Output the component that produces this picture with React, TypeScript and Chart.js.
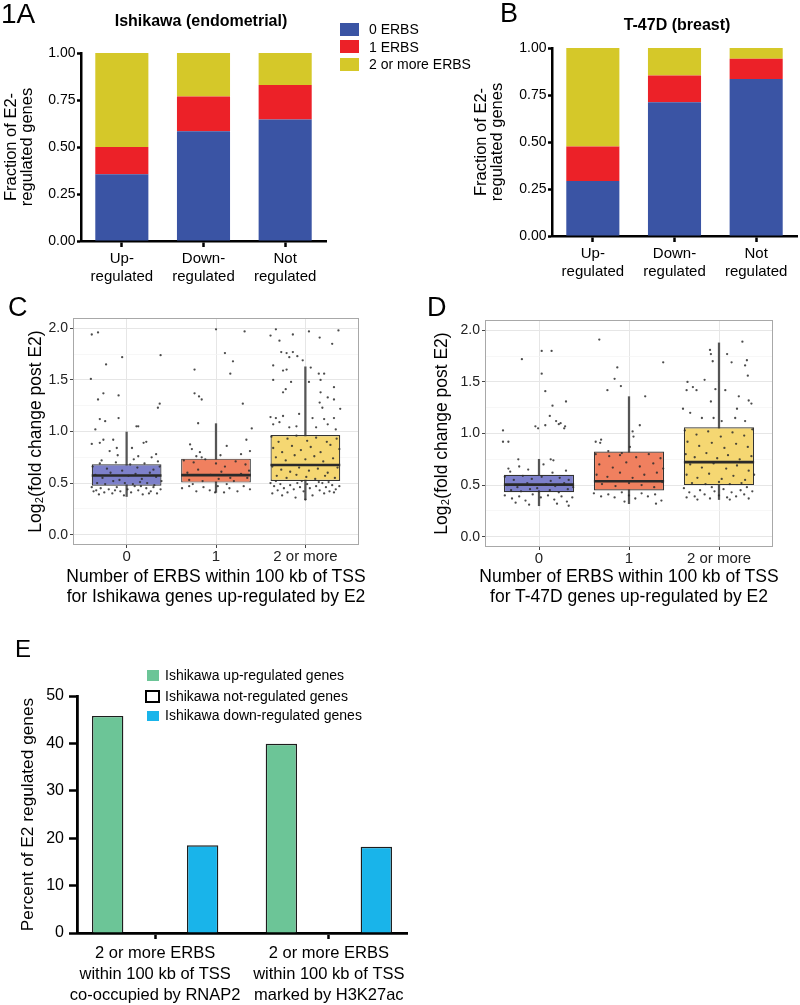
import React, { useEffect, useRef } from "react";
import { Chart, registerables } from "chart.js";

Chart.register(...registerables);

const FONT = "'Liberation Sans', Arial, Helvetica, sans-serif";

// ---------------- Panels A & B: stacked fractions ----------------
const REG_CATEGORIES = [["Up-", "regulated"], ["Down-", "regulated"], ["Not", "regulated"]];
const ERBS_LEGEND = ["0 ERBS", "1 ERBS", "2 or more ERBS"];
const ISH_ZERO = [0.355, 0.584, 0.646];
const ISH_ONE = [0.145, 0.184, 0.184];
const ISH_TWO_PLUS = [0.5, 0.232, 0.17];
const T47D_ZERO = [0.293, 0.712, 0.835];
const T47D_ONE = [0.183, 0.142, 0.108];
const T47D_TWO_PLUS = [0.524, 0.146, 0.057];
const FRACTION_TICKS = [0, 0.25, 0.5, 0.75, 1];

// ---------------- Panels C & D: box plots with jittered genes ----------------
const ERBS_GROUPS = ["0", "1", "2 or more"];
const LOG2_TICKS = [0, 0.25, 0.5, 0.75, 1, 1.25, 1.5, 1.75, 2];

const ISH_LOW = [0.37, 0.41, 0.34];
const ISH_Q1 = [0.475, 0.505, 0.52];
const ISH_MEDIAN = [0.573, 0.577, 0.675];
const ISH_Q3 = [0.683, 0.737, 0.966];
const ISH_HIGH = [0.995, 1.076, 1.627];

const T47D_LOW = [0.3, 0.32, 0.36];
const T47D_Q1 = [0.43, 0.447, 0.5];
const T47D_MEDIAN = [0.505, 0.537, 0.723];
const T47D_Q3 = [0.6, 0.826, 1.061];
const T47D_HIGH = [0.75, 1.357, 1.878];

// [offset from group centre, log2 fold change]
const ISH_GENES_0 = [
  [-0.39, 1.94], [-0.32, 1.96], [-0.23, 1.65], [-0.05, 1.72], [0.38, 1.74], [-0.4, 1.51], [-0.26, 1.37],
  [-0.32, 1.31], [-0.09, 1.35], [0.35, 1.23], [0.37, 1.27], [-0.3, 1.12], [-0.24, 1.1], [-0.09, 1.13],
  [-0.35, 1.02], [0.11, 1.05], [0.13, 1.05], [-0.39, 0.88], [-0.3, 0.89], [-0.26, 0.92], [-0.15, 0.92],
  [0.19, 0.89], [0.22, 0.9], [0.06, 0.84], [0.33, 0.78], [-0.19, 0.81], [-0.11, 0.84], [0.13, 0.76],
  [0.28, 0.75], [-0.28, 0.72], [0.08, 0.73], [0.35, 0.71], [-0.1, 0.77],
  [-0.38, 0.66], [-0.3, 0.69], [-0.22, 0.64], [-0.12, 0.7], [-0.05, 0.62], [0.04, 0.68], [0.12, 0.65],
  [0.2, 0.69], [0.3, 0.63], [0.37, 0.66], [-0.35, 0.58], [-0.27, 0.55], [-0.18, 0.6], [-0.08, 0.53],
  [0.02, 0.57], [0.1, 0.59], [0.17, 0.54], [0.26, 0.6], [0.33, 0.56], [0.39, 0.52], [-0.33, 0.5],
  [-0.24, 0.49], [-0.15, 0.52], [-0.02, 0.5], [0.07, 0.49], [0.15, 0.51], [0.23, 0.5], [0.31, 0.48],
  [-0.39, 0.46], [-0.34, 0.43], [-0.29, 0.45], [-0.25, 0.41], [-0.2, 0.44], [-0.16, 0.4], [-0.11, 0.46],
  [-0.07, 0.42], [-0.03, 0.38], [0.01, 0.44], [0.05, 0.41], [0.09, 0.47], [0.13, 0.43], [0.18, 0.39],
  [0.22, 0.45], [0.27, 0.42], [0.3, 0.46], [0.34, 0.4], [0.38, 0.44], [-0.31, 0.39], [0.16, 0.47],
  [-0.13, 0.43], [0.25, 0.4], [-0.37, 0.42],
];
const ISH_GENES_1 = [
  [0.0, 1.99], [0.32, 1.97], [0.1, 1.76], [0.19, 1.68], [-0.24, 1.6], [0.16, 1.56], [-0.24, 1.37],
  [-0.19, 1.34], [-0.16, 1.31], [0.3, 1.27], [-0.2, 1.08], [0.4, 1.03], [-0.29, 0.875], [0.12, 0.86],
  [0.34, 0.92], [-0.27, 0.83], [-0.22, 0.76], [-0.16, 0.75], [0.38, 0.81], [0.28, 0.78], [-0.18, 0.8],
  [0.05, 0.77], [-0.36, 0.72], [-0.25, 0.7], [-0.12, 0.73], [0.0, 0.69], [0.1, 0.66], [0.22, 0.71],
  [0.33, 0.68], [-0.32, 0.6], [-0.2, 0.63], [-0.06, 0.58], [0.06, 0.61], [0.16, 0.55], [0.28, 0.59],
  [0.37, 0.62], [-0.3, 0.53], [-0.15, 0.52], [0.03, 0.54], [0.2, 0.52], [0.35, 0.55], [-0.38, 0.45],
  [-0.3, 0.47], [-0.22, 0.42], [-0.14, 0.46], [-0.07, 0.43], [0.02, 0.47], [0.09, 0.41], [0.15, 0.45],
  [0.24, 0.42], [0.31, 0.47], [0.38, 0.44], [-0.26, 0.49], [0.12, 0.49], [-0.01, 0.41],
];
const ISH_GENES_2 = [
  [-0.39, 1.93], [-0.33, 1.99], [-0.29, 1.88], [-0.14, 1.94], [0.04, 1.97], [0.16, 1.91], [0.3, 1.85],
  [0.37, 1.98], [-0.27, 1.77], [-0.21, 1.76], [-0.14, 1.77], [-0.09, 1.73], [-0.18, 1.72], [-0.03, 1.69],
  [-0.36, 1.64], [-0.25, 1.59], [-0.21, 1.6], [0.06, 1.62], [0.15, 1.56], [0.21, 1.56], [-0.36, 1.5],
  [-0.16, 1.48], [0.04, 1.48], [0.17, 1.5], [0.32, 1.43], [-0.22, 1.41], [-0.25, 1.38], [0.17, 1.38],
  [0.25, 1.33], [0.32, 1.31], [0.16, 1.28], [0.19, 1.23], [0.39, 1.22], [-0.39, 1.14], [-0.33, 1.13],
  [-0.25, 1.15], [-0.07, 1.17], [0.08, 1.13], [0.21, 1.12], [0.32, 1.13], [-0.36, 1.07], [-0.29, 1.09],
  [-0.18, 1.04], [-0.1, 1.05], [0.12, 1.04], [0.25, 1.07], [0.34, 1.02],
  [-0.38, 0.95], [-0.3, 0.9], [-0.2, 0.93], [-0.1, 0.96], [0.02, 0.91], [0.12, 0.94], [0.24, 0.9],
  [0.35, 0.93], [-0.36, 0.84], [-0.26, 0.8], [-0.15, 0.86], [-0.05, 0.82], [0.06, 0.85], [0.17, 0.8],
  [0.28, 0.87], [0.38, 0.83], [-0.33, 0.75], [-0.22, 0.72], [-0.12, 0.77], [0.0, 0.73], [0.1, 0.76],
  [0.2, 0.71], [0.31, 0.74], [-0.37, 0.66], [-0.27, 0.63], [-0.17, 0.61], [-0.07, 0.65], [0.04, 0.62],
  [0.14, 0.64], [0.25, 0.6], [0.36, 0.65], [-0.32, 0.57], [-0.21, 0.55], [-0.1, 0.58], [0.01, 0.56],
  [0.11, 0.54], [0.22, 0.57], [0.33, 0.55],
  [-0.39, 0.5], [-0.35, 0.47], [-0.31, 0.43], [-0.28, 0.49], [-0.24, 0.45], [-0.2, 0.41], [-0.17, 0.48],
  [-0.13, 0.44], [-0.09, 0.5], [-0.06, 0.46], [-0.02, 0.42], [0.02, 0.49], [0.05, 0.45], [0.08, 0.38],
  [0.12, 0.47], [0.16, 0.43], [0.19, 0.5], [0.23, 0.46], [0.27, 0.42], [0.3, 0.48], [0.34, 0.44],
  [0.38, 0.47], [-0.37, 0.4], [-0.26, 0.38], [-0.11, 0.36], [0.0, 0.34], [0.21, 0.4], [0.32, 0.41],
  [-0.04, 0.52], [0.15, 0.51], [-0.33, 0.52], [0.26, 0.51],
];

const T47D_GENES_0 = [
  [-0.19, 1.72], [0.03, 1.8], [0.14, 1.8], [0.03, 1.58], [0.07, 1.41], [0.3, 1.31], [0.15, 1.27],
  [0.12, 1.17], [0.19, 1.12], [0.22, 1.09], [0.24, 1.1], [0.28, 1.05], [0.29, 1.07], [-0.04, 1.07],
  [-0.01, 1.05], [0.07, 1.08], [-0.4, 1.03], [-0.4, 0.92], [-0.34, 0.92], [0.13, 0.75], [0.16, 0.74],
  [-0.23, 0.75], [-0.34, 0.66], [-0.32, 0.63], [-0.12, 0.65], [0.15, 0.62], [0.3, 0.64], [-0.22, 0.68],
  [0.05, 0.7],
  [-0.38, 0.58], [-0.28, 0.55], [-0.18, 0.59], [-0.08, 0.56], [0.03, 0.58], [0.13, 0.54], [0.23, 0.57],
  [0.33, 0.55], [-0.35, 0.5], [-0.24, 0.48], [-0.13, 0.52], [-0.02, 0.47], [0.08, 0.51], [0.18, 0.49],
  [0.28, 0.52], [0.38, 0.48], [-0.31, 0.45], [-0.2, 0.44], [-0.1, 0.46], [0.0, 0.44], [0.12, 0.45],
  [0.22, 0.43], [0.32, 0.46], [-0.38, 0.4], [-0.3, 0.37], [-0.22, 0.39], [-0.15, 0.35], [-0.07, 0.41],
  [0.02, 0.38], [0.1, 0.4], [0.17, 0.36], [0.25, 0.39], [0.31, 0.34], [0.37, 0.38], [-0.26, 0.33],
  [-0.11, 0.31], [0.2, 0.32], [0.33, 0.3],
];
const T47D_GENES_1 = [
  [-0.33, 1.91], [-0.13, 1.64], [-0.16, 1.53], [-0.09, 1.46], [-0.24, 1.42], [0.38, 1.69], [0.18, 1.36],
  [0.12, 1.08], [0.04, 1.02], [0.05, 0.97], [-0.37, 0.92], [-0.32, 0.91], [-0.31, 0.94], [0.01, 0.87],
  [-0.1, 0.79], [-0.23, 0.83],
  [-0.37, 0.8], [-0.22, 0.78], [-0.08, 0.81], [0.08, 0.77], [0.22, 0.8], [0.35, 0.76], [-0.33, 0.7],
  [-0.18, 0.67], [-0.03, 0.72], [0.12, 0.68], [0.27, 0.71], [0.38, 0.66], [-0.36, 0.6], [-0.24, 0.58],
  [-0.1, 0.62], [0.04, 0.57], [0.17, 0.6], [0.31, 0.62], [-0.3, 0.51], [-0.15, 0.49], [0.0, 0.52],
  [0.14, 0.5], [0.28, 0.48], [0.37, 0.53], [-0.39, 0.42], [-0.31, 0.39], [-0.23, 0.41], [-0.16, 0.38],
  [-0.08, 0.43], [0.0, 0.4], [0.07, 0.37], [0.14, 0.42], [0.21, 0.39], [0.29, 0.41], [0.36, 0.35],
  [0.3, 0.32], [-0.05, 0.34],
];
const T47D_GENES_2 = [
  [-0.1, 1.81], [-0.09, 1.77], [-0.07, 1.7], [0.14, 1.69], [0.26, 1.89], [0.31, 1.71], [0.29, 1.66],
  [0.32, 1.56], [0.09, 1.77], [-0.16, 1.52], [-0.35, 1.5], [-0.36, 1.42], [-0.29, 1.45], [-0.25, 1.42],
  [-0.04, 1.43], [0.07, 1.42], [-0.09, 1.31], [0.22, 1.36], [0.33, 1.32], [0.36, 1.29], [0.2, 1.24],
  [-0.4, 1.24], [-0.32, 1.2], [-0.19, 1.15], [-0.06, 1.15], [0.03, 1.12], [0.18, 1.15], [0.29, 1.12],
  [-0.38, 1.03], [-0.25, 0.99], [-0.12, 1.02], [0.02, 0.97], [0.15, 1.01], [0.28, 0.98], [0.37, 1.04],
  [-0.35, 0.92], [-0.22, 0.88], [-0.08, 0.91], [0.06, 0.86], [0.19, 0.9], [0.32, 0.87], [-0.37, 0.8],
  [-0.27, 0.77], [-0.14, 0.81], [-0.02, 0.76], [0.1, 0.79], [0.23, 0.75], [0.36, 0.78], [-0.32, 0.7],
  [-0.19, 0.67], [-0.06, 0.71], [0.08, 0.66], [0.2, 0.69], [0.33, 0.64], [-0.36, 0.6], [-0.24, 0.57],
  [-0.11, 0.61], [0.03, 0.56], [0.16, 0.59], [0.29, 0.55], [0.39, 0.6], [-0.3, 0.52], [-0.15, 0.51],
  [0.0, 0.53], [0.12, 0.51], [0.25, 0.52],
  [-0.39, 0.47], [-0.33, 0.43], [-0.27, 0.39], [-0.21, 0.45], [-0.16, 0.41], [-0.1, 0.37], [-0.05, 0.44],
  [0.0, 0.4], [0.05, 0.46], [0.09, 0.38], [0.14, 0.43], [0.19, 0.39], [0.24, 0.45], [0.28, 0.41],
  [0.33, 0.37], [0.37, 0.44], [-0.36, 0.38], [-0.24, 0.36], [0.12, 0.36], [0.31, 0.48], [-0.08, 0.48],
];

// ---------------- Panel E ----------------
const E_CATEGORIES = [
  ["2 or more ERBS", "within 100 kb of TSS", "co-occupied by RNAP2"],
  ["2 or more ERBS", "within 100 kb of TSS", "marked by H3K27ac"],
];
const E_SERIES = ["Ishikawa up-regulated genes", "Ishikawa not-regulated genes", "Ishikawa down-regulated genes"];
const E_UP = [45.8, 39.9];
const E_NOT = [0, 0];
const E_DOWN = [18.5, 18.2];
const E_TICKS = [0, 10, 20, 30, 40, 50];

// ---------------- styles ----------------
const BLUE = "#3a54a4";
const RED = "#ec2128";
const OLIVE = "#d5c829";
const BOX_FILLS = ["#7d80ca", "#f0805f", "#f5d772"];
const GREEN = "#6cc597";
const SKY = "#19b4ea";
const BOX_WIDTH = 0.78;

const setTicks = (values: number[]) => (s: any) => {
  s.ticks = values.map((v) => ({ value: v }));
};
const isMajor = (v: number) => Math.abs(v * 2 - Math.round(v * 2)) < 1e-6;

function stackedConfig(zero: number[], one: number[], two: number[], area: any) {
  const axisFont = { family: FONT, size: 15, lineHeight: 1.2 };
  return {
    type: "bar",
    data: {
      labels: REG_CATEGORIES,
      datasets: [
        { label: ERBS_LEGEND[0], data: zero, backgroundColor: BLUE },
        { label: ERBS_LEGEND[1], data: one, backgroundColor: RED },
        { label: ERBS_LEGEND[2], data: two, backgroundColor: OLIVE },
      ],
    },
    options: {
      animation: false,
      responsive: false,
      maintainAspectRatio: false,
      layout: { padding: { top: area.padTop, right: area.padRight, left: 0, bottom: 0 } },
      plugins: { legend: { display: false }, tooltip: { enabled: false } },
      datasets: { bar: { barPercentage: 0.65, categoryPercentage: 1 } },
      scales: {
        x: {
          stacked: true,
          offset: true,
          grid: { offset: false, drawOnChartArea: false, drawTicks: true, tickLength: 6, tickWidth: 2.5, tickColor: "#000" },
          border: { display: true, color: "#000", width: 2.5 },
          ticks: { font: axisFont, color: "#000", padding: 2.5, maxRotation: 0, autoSkip: false },
          afterFit: (s: any) => { s.height = area.xHeight; },
        },
        y: {
          stacked: true,
          min: 0,
          max: 1,
          afterBuildTicks: setTicks(FRACTION_TICKS),
          ticks: { callback: (v: any) => Number(v).toFixed(2), font: { family: FONT, size: 14 }, color: "#000", padding: 1.5 },
          grid: { drawOnChartArea: false, drawTicks: true, tickLength: 4, tickWidth: 2.5, tickColor: "#000" },
          border: { display: true, color: "#000", width: 2.5 },
          title: {
            display: true,
            text: ["Fraction of E2-", "regulated genes"],
            font: { family: FONT, size: 16.5, lineHeight: 0.96 },
            color: "#000",
            padding: { top: area.titlePad, bottom: 0 },
          },
          afterFit: (s: any) => { s.width = area.yWidth; },
        },
      },
    },
  };
}

const framePlugin = {
  id: "panelFrame",
  afterDraw(chart: any) {
    const { ctx, chartArea } = chart;
    ctx.save();
    ctx.strokeStyle = "#a8a8a8";
    ctx.lineWidth = 1;
    ctx.strokeRect(
      Math.round(chartArea.left) + 0.5,
      Math.round(chartArea.top) + 0.5,
      Math.round(chartArea.right - chartArea.left) - 1,
      Math.round(chartArea.bottom - chartArea.top) - 1
    );
    ctx.restore();
  },
};

function boxConfig(stats: any, genes: number[][][], area: any) {
  const halfBox = (c: any) => {
    const x = c.chart.scales.x;
    return ((x.getPixelForValue(1) - x.getPixelForValue(0)) * BOX_WIDTH) / 2;
  };
  return {
    type: "bar",
    data: {
      datasets: [
        {
          type: "scatter",
          label: "genes",
          data: genes.flatMap((g, i) => g.map(([dx, y]) => ({ x: i + dx, y }))),
          pointRadius: 1.15,
          pointBackgroundColor: "rgba(45,45,45,0.85)",
          pointBorderWidth: 0,
          order: 0,
        },
        {
          type: "scatter",
          label: "median",
          data: stats.median.map((m: number, i: number) => ({ x: i, y: m })),
          pointStyle: "line",
          pointRadius: halfBox,
          pointBorderColor: "#2a2a2a",
          pointBorderWidth: 2.6,
          order: 1,
        },
        {
          type: "bar",
          label: "box",
          data: stats.q1.map((q: number, i: number) => ({ x: i, y: [q, stats.q3[i]] })),
          backgroundColor: BOX_FILLS,
          borderColor: "#333",
          borderWidth: 1.2,
          borderSkipped: false,
          barPercentage: BOX_WIDTH,
          categoryPercentage: 1,
          grouped: false,
          order: 2,
        },
        {
          type: "bar",
          label: "whisker",
          data: stats.low.map((l: number, i: number) => ({ x: i, y: [l, stats.high[i]] })),
          backgroundColor: "#555",
          barThickness: 1.6,
          grouped: false,
          order: 3,
        },
      ],
    },
    options: {
      animation: false,
      responsive: false,
      maintainAspectRatio: false,
      layout: { padding: { top: area.padTop, right: area.padRight, left: 0, bottom: 0 } },
      plugins: { legend: { display: false }, tooltip: { enabled: false } },
      scales: {
        x: {
          type: "linear",
          min: -0.6,
          max: 2.6,
          offset: false,
          afterBuildTicks: setTicks(ERBS_GROUPS.map((_, i) => i)),
          ticks: {
            callback: (v: any) => ERBS_GROUPS[Math.round(Number(v))],
            font: { family: FONT, size: 15, lineHeight: 1.2 },
            color: "#222",
            padding: 0,
            maxRotation: 0,
            autoSkip: false,
          },
          grid: { offset: false, color: "#e6e6e6", lineWidth: 1, drawTicks: true, tickLength: 3, tickColor: "#444" },
          border: { display: false },
          afterFit: (s: any) => { s.height = area.xHeight; },
        },
        y: {
          type: "linear",
          min: -0.1,
          max: 2.1,
          afterBuildTicks: setTicks(LOG2_TICKS),
          ticks: {
            callback: (v: any) => (isMajor(Number(v)) ? Number(v).toFixed(1) : ""),
            font: { family: FONT, size: 14 },
            color: "#222",
            padding: 2,
          },
          grid: {
            color: (c: any) => (c.tick && !isMajor(c.tick.value) ? "#f3f3f3" : "#e6e6e6"),
            lineWidth: (c: any) => (c.tick && !isMajor(c.tick.value) ? 0.7 : 1),
            tickColor: (c: any) => (c.tick && !isMajor(c.tick.value) ? "rgba(0,0,0,0)" : "#444"),
            drawTicks: true,
            tickLength: 3,
          },
          border: { display: false },
          title: {
            display: true,
            text: "Log₂(fold change post E2)",
            font: { family: FONT, size: 17.5, lineHeight: 1.2 },
            color: "#000",
            padding: { top: area.titlePad, bottom: 0 },
          },
          afterFit: (s: any) => { s.width = area.yWidth; },
        },
      },
    },
    plugins: [framePlugin],
  };
}

function eConfig() {
  const toPoints = (vals: number[]) => vals.map((v, i) => ({ x: i, y: v }));
  return {
    type: "bar",
    data: {
      datasets: [
        { label: E_SERIES[0], data: toPoints(E_UP), backgroundColor: GREEN, borderColor: "#1d1d1d", borderWidth: 1.4 },
        { label: E_SERIES[1], data: toPoints(E_NOT), backgroundColor: "#fff", borderColor: "#000", borderWidth: 1.4 },
        { label: E_SERIES[2], data: toPoints(E_DOWN), backgroundColor: SKY, borderColor: "#1d1d1d", borderWidth: 1.4 },
      ],
    },
    options: {
      animation: false,
      responsive: false,
      maintainAspectRatio: false,
      layout: { padding: { top: 76, right: 23, left: 0, bottom: 0 } },
      plugins: { legend: { display: false }, tooltip: { enabled: false } },
      datasets: { bar: { categoryPercentage: 0.82, barPercentage: 0.66 } },
      scales: {
        x: {
          type: "linear",
          min: -0.45,
          max: 1.45,
          offset: false,
          afterBuildTicks: setTicks(E_CATEGORIES.map((_, i) => i)),
          ticks: {
            callback: (v: any) => E_CATEGORIES[Math.round(Number(v))],
            font: { family: FONT, size: 16.5, lineHeight: 1.28 },
            color: "#000",
            padding: 3.4,
            maxRotation: 0,
            autoSkip: false,
          },
          grid: { offset: false, drawOnChartArea: false, drawTicks: true, tickLength: 6, tickWidth: 2.5, tickColor: "#000" },
          border: { display: true, color: "#000", width: 2.8 },
          afterFit: (s: any) => { s.height = 72; },
        },
        y: {
          min: 0,
          max: 50,
          afterBuildTicks: setTicks(E_TICKS),
          ticks: { font: { family: FONT, size: 16 }, color: "#000", padding: 5 },
          grid: { drawOnChartArea: false, drawTicks: true, tickLength: 8, tickWidth: 2.5, tickColor: "#000" },
          border: { display: true, color: "#000", width: 2.8 },
          title: {
            display: true,
            text: "Percent of E2 regulated genes",
            font: { family: FONT, size: 17.3, lineHeight: 1.15 },
            color: "#000",
            padding: { top: 18, bottom: 0 },
          },
          afterFit: (s: any) => { s.width = 77; },
        },
      },
    },
  };
}

function ChartCanvas({ left, top, width, height, make }: any) {
  const ref = useRef<HTMLCanvasElement>(null);
  useEffect(() => {
    const chart = new Chart(ref.current as HTMLCanvasElement, make());
    return () => chart.destroy();
  }, []);
  return (
    <canvas
      ref={ref}
      width={width}
      height={height}
      style={{ position: "absolute", left, top, width, height }}
    />
  );
}

// text anchored at its visual centre line
function Txt({ x, y, size, bold, align = "center", children }: any) {
  const style: any = {
    position: "absolute",
    left: x,
    top: y - 0.52 * size,
    fontSize: size,
    lineHeight: `${size}px`,
    fontFamily: FONT,
    fontWeight: bold ? "bold" : "normal",
    whiteSpace: "nowrap",
    color: "#000",
  };
  if (align === "center") style.transform = "translateX(-50%)";
  return <div style={style}>{children}</div>;
}

function Swatch({ x, y, w, h, color, border }: any) {
  return (
    <div
      style={{
        position: "absolute",
        left: x,
        top: y,
        width: w,
        height: h,
        background: color,
        border: border || "none",
        boxSizing: "border-box",
      }}
    />
  );
}

function Letter({ x, baseline, size, children }: any) {
  return (
    <div
      style={{
        position: "absolute",
        left: x,
        top: baseline - 0.8465 * size,
        fontSize: size,
        lineHeight: `${size}px`,
        fontFamily: FONT,
        color: "#000",
      }}
    >
      {children}
    </div>
  );
}

export default function App() {
  const ishStats = { low: ISH_LOW, q1: ISH_Q1, median: ISH_MEDIAN, q3: ISH_Q3, high: ISH_HIGH };
  const t47Stats = { low: T47D_LOW, q1: T47D_Q1, median: T47D_MEDIAN, q3: T47D_Q3, high: T47D_HIGH };
  const legendColors = [BLUE, RED, OLIVE];
  const legendRows = [29.5, 46.8, 64];
  return (
    <div style={{ position: "absolute", left: 0, top: 0, width: 800, height: 1005, background: "#fff", overflow: "hidden" }}>
      {/* Panel A */}
      <ChartCanvas
        left={0}
        top={0}
        width={330}
        height={300}
        make={() => stackedConfig(ISH_ZERO, ISH_ONE, ISH_TWO_PLUS, { padTop: 53, padRight: 4, xHeight: 59, yWidth: 81, titlePad: 3.5 })}
      />
      <Letter x={1} baseline={23.5} size={28}>1A</Letter>
      <Txt x={201} y={21} size={16} bold>Ishikawa (endometrial)</Txt>
      {ERBS_LEGEND.map((name, i) => (
        <React.Fragment key={name}>
          <Swatch x={340} y={legendRows[i] - 6.5} w={19} h={13} color={legendColors[i]} />
          <Txt x={369} y={legendRows[i]} size={14} align="left">{name}</Txt>
        </React.Fragment>
      ))}

      {/* Panel B */}
      <ChartCanvas
        left={473}
        top={0}
        width={327}
        height={300}
        make={() => stackedConfig(T47D_ZERO, T47D_ONE, T47D_TWO_PLUS, { padTop: 48, padRight: 3, xHeight: 64, yWidth: 79, titlePad: 1 })}
      />
      <Letter x={500} baseline={23} size={27}>B</Letter>
      <Txt x={677} y={25} size={16} bold>T-47D (breast)</Txt>

      {/* Panel C */}
      <ChartCanvas
        left={0}
        top={300}
        width={380}
        height={270}
        make={() => boxConfig(ishStats, [ISH_GENES_0, ISH_GENES_1, ISH_GENES_2], { padTop: 18, padRight: 21, xHeight: 25, yWidth: 73, titlePad: 25.5 })}
      />
      <Letter x={8} baseline={317} size={27}>C</Letter>
      <Txt x={216} y={577} size={17.5}>Number of ERBS within 100 kb of TSS</Txt>
      <Txt x={216} y={597} size={17.5}>for Ishikawa genes up-regulated by E2</Txt>

      {/* Panel D */}
      <ChartCanvas
        left={405}
        top={300}
        width={395}
        height={270}
        make={() => boxConfig(t47Stats, [T47D_GENES_0, T47D_GENES_1, T47D_GENES_2], { padTop: 20, padRight: 27, xHeight: 23, yWidth: 80, titlePad: 26.5 })}
      />
      <Letter x={427} baseline={317} size={27}>D</Letter>
      <Txt x={629} y={577} size={17.5}>Number of ERBS within 100 kb of TSS</Txt>
      <Txt x={629} y={597} size={17.5}>for T-47D genes up-regulated by E2</Txt>

      {/* Panel E */}
      <ChartCanvas left={0} top={620} width={430} height={385} make={eConfig} />
      <Letter x={15} baseline={657} size={24}>E</Letter>
      <Swatch x={147} y={670} w={12} h={11} color={GREEN} />
      <Txt x={165} y={675.7} size={14} align="left">{E_SERIES[0]}</Txt>
      <Swatch x={145} y={689.5} w={15} h={13} color="#fff" border="2.5px solid #000" />
      <Txt x={165} y={696} size={14} align="left">{E_SERIES[1]}</Txt>
      <Swatch x={147} y={711} w={12} h={10} color={SKY} />
      <Txt x={165} y={715.7} size={14} align="left">{E_SERIES[2]}</Txt>
    </div>
  );
}
